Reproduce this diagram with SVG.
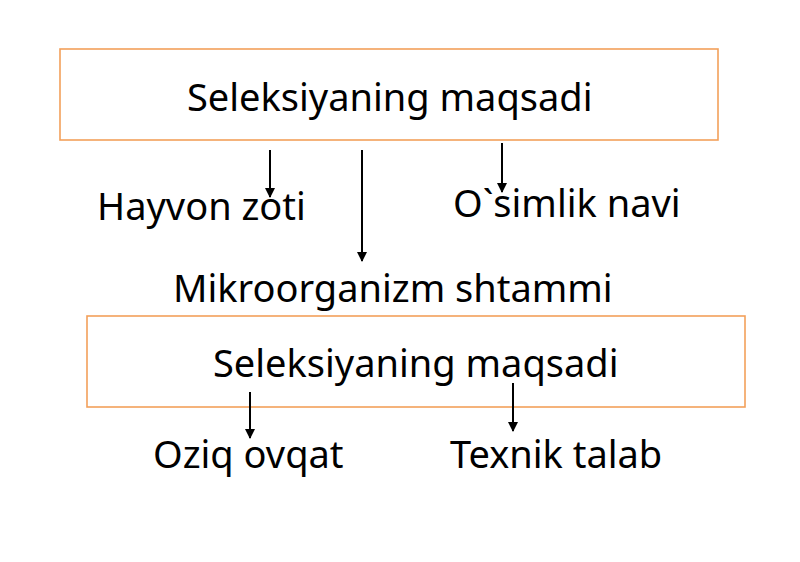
<svg xmlns="http://www.w3.org/2000/svg" width="800" height="562" viewBox="0 0 800 562">
<defs>
<marker id="ah" viewBox="0 0 10 10" refX="9" refY="5" markerWidth="5" markerHeight="5" markerUnits="strokeWidth" orient="auto">
<path d="M0,0 L10,5 L0,10 z" fill="#000"/>
</marker>
<style>
.box{fill:#fff;stroke:#f3a05a;stroke-width:1.6}
.t{font-family:"Noto Sans","Open Sans","DejaVu Sans",sans-serif;font-size:38px;fill:#000}
.c line{stroke:#000;stroke-width:2;marker-end:url(#ah)}
</style>
</defs>
<rect width="800" height="562" fill="#fff"/>
<g id="node-top">
<rect class="box" x="60" y="49" width="658" height="91"/>
<text class="t" x="187" y="111">Seleksiyaning maqsadi</text>
</g>
<g id="node-hayvon"><text class="t" x="97" y="220">Hayvon zoti</text></g>
<g id="node-osimlik"><text class="t" x="453" y="217">O`simlik navi</text></g>
<g id="node-mikro"><text class="t" x="173" y="302">Mikroorganizm shtammi</text></g>
<g id="node-bottom">
<rect class="box" x="87" y="316" width="658" height="91"/>
<text class="t" x="213" y="377">Seleksiyaning maqsadi</text>
</g>
<g id="node-oziq"><text class="t" x="153" y="468">Oziq ovqat</text></g>
<g id="node-texnik"><text class="t" x="450" y="468">Texnik talab</text></g>
<g class="c" id="connectors">
<line x1="270" y1="150" x2="270" y2="197"/>
<line x1="362" y1="150" x2="362" y2="261"/>
<line x1="502" y1="143" x2="502" y2="192"/>
<line x1="250" y1="392" x2="250" y2="438"/>
<line x1="513" y1="383" x2="513" y2="431"/>
</g>
</svg>
